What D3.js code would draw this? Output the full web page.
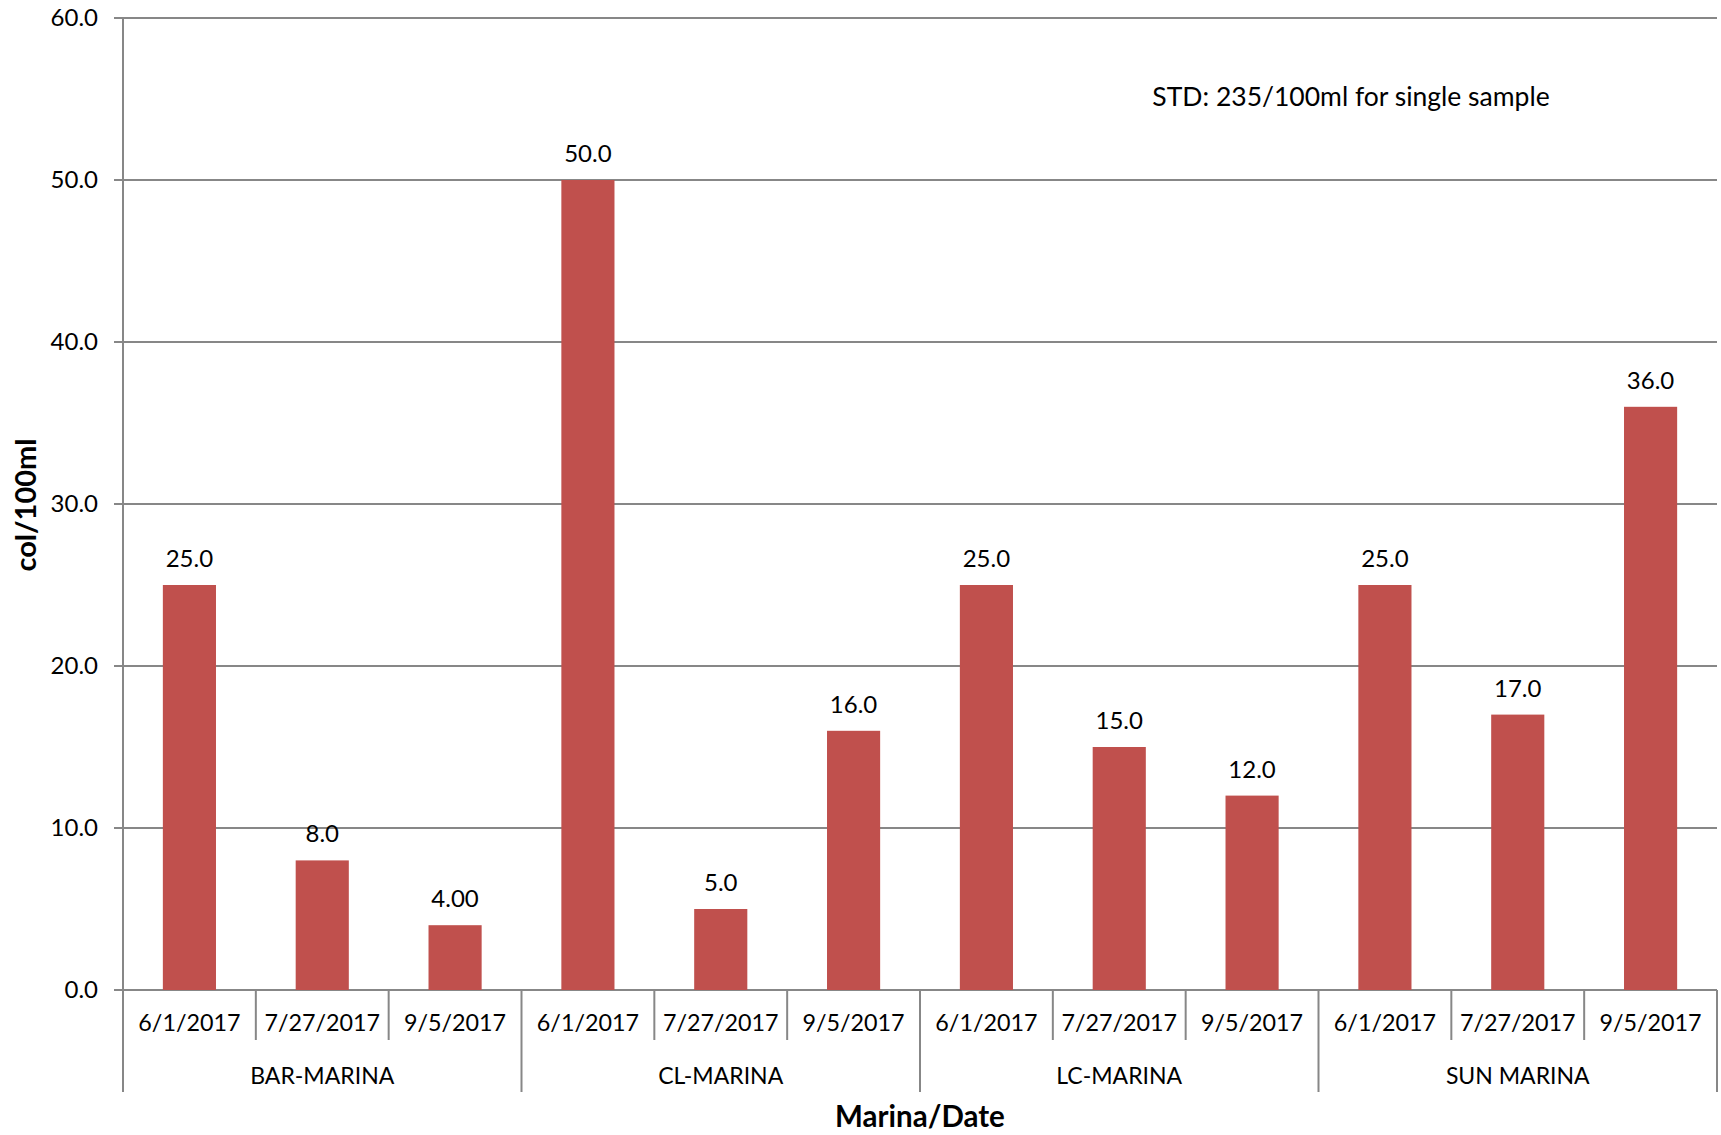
<!DOCTYPE html>
<html><head><meta charset="utf-8">
<script src="https://cdn.jsdelivr.net/npm/d3@7"></script>
<style>body{margin:0;background:#fff;} text{font-family:Lato, "Open Sans", sans-serif;fill:#000;}</style>
</head><body><svg id="c" width="1721" height="1135"></svg>
<script>
const groups = ["BAR-MARINA","CL-MARINA","LC-MARINA","SUN MARINA"];
const dates = ["6/1/2017","7/27/2017","9/5/2017"];
const values = [25,8,4, 50,5,16, 25,15,12, 25,17,36];
const valueLabels = ["25.0","8.0","4.00","50.0","5.0","16.0","25.0","15.0","12.0","25.0","17.0","36.0"];
const yTicks = [0,10,20,30,40,50,60];

const svg = d3.select("#c");
const L=123, R=1717, T=18, B=990;
const cats = [];
groups.forEach(g=>dates.forEach(d=>cats.push(g+"|"+d)));
const x = d3.scaleBand().domain(cats).range([L,R]).paddingInner(0.6).paddingOuter(0.3);
const xc = d3.scaleBand().domain(cats).range([L,R]);
const y = d3.scaleLinear().domain([0,60]).range([B,T]);
const grey="#878787";

// gridlines
svg.append("g").selectAll("line").data(yTicks).join("line")
  .attr("x1",L-9).attr("x2",R).attr("y1",d=>y(d)).attr("y2",d=>y(d))
  .attr("stroke",grey).attr("stroke-width",2);
svg.append("g").selectAll("text").data(yTicks).join("text")
  .attr("x",98).attr("y",d=>y(d)).attr("dy","0.35em").attr("text-anchor","end")
  .attr("font-size",24).text(d=>d.toFixed(1));
// y axis line
svg.append("line").attr("x1",L).attr("x2",L).attr("y1",T).attr("y2",B).attr("stroke",grey).attr("stroke-width",2);

// bars
svg.append("g").selectAll("rect").data(values).join("rect")
  .attr("x",(d,i)=>x(cats[i])).attr("width",x.bandwidth())
  .attr("y",d=>y(d)).attr("height",d=>B-y(d)).attr("fill","#C0504D");
svg.append("g").selectAll("text").data(values).join("text")
  .attr("x",(d,i)=>x(cats[i])+x.bandwidth()/2).attr("y",d=>y(d)-18)
  .attr("text-anchor","middle").attr("font-size",24).text((d,i)=>valueLabels[i]);

// category ticks
const bounds = cats.map(c=>xc(c)).concat([R]);
svg.append("g").selectAll("line").data(bounds).join("line")
  .attr("x1",d=>d).attr("x2",d=>d).attr("y1",B)
  .attr("y2",(d,i)=>i%3===0?1092:1040).attr("stroke",grey).attr("stroke-width",2);
svg.append("g").selectAll("text").data(cats).join("text")
  .attr("x",d=>xc(d)+xc.bandwidth()/2).attr("y",1023).attr("dy","0.35em")
  .attr("text-anchor","middle").attr("font-size",23.3).text(d=>d.split("|")[1]);
svg.append("g").selectAll("text").data(groups).join("text")
  .attr("x",g=>xc(g+"|"+dates[1])+xc.bandwidth()/2).attr("y",1076).attr("dy","0.35em")
  .attr("text-anchor","middle").attr("font-size",23).text(g=>g);

// titles
svg.append("text").attr("x",920).attr("y",1117).attr("dy","0.35em").attr("text-anchor","middle")
  .attr("font-size",29.5).attr("font-weight","bold").text("Marina/Date");
svg.append("text").attr("transform","translate(26,505) rotate(-90)").attr("dy","0.35em")
  .attr("text-anchor","middle").attr("font-size",29).attr("font-weight","bold").text("col/100ml");
svg.append("text").attr("x",1351).attr("y",97).attr("dy","0.35em").attr("text-anchor","middle")
  .attr("font-size",26.5).text("STD: 235/100ml for single sample");
</script></body></html>
